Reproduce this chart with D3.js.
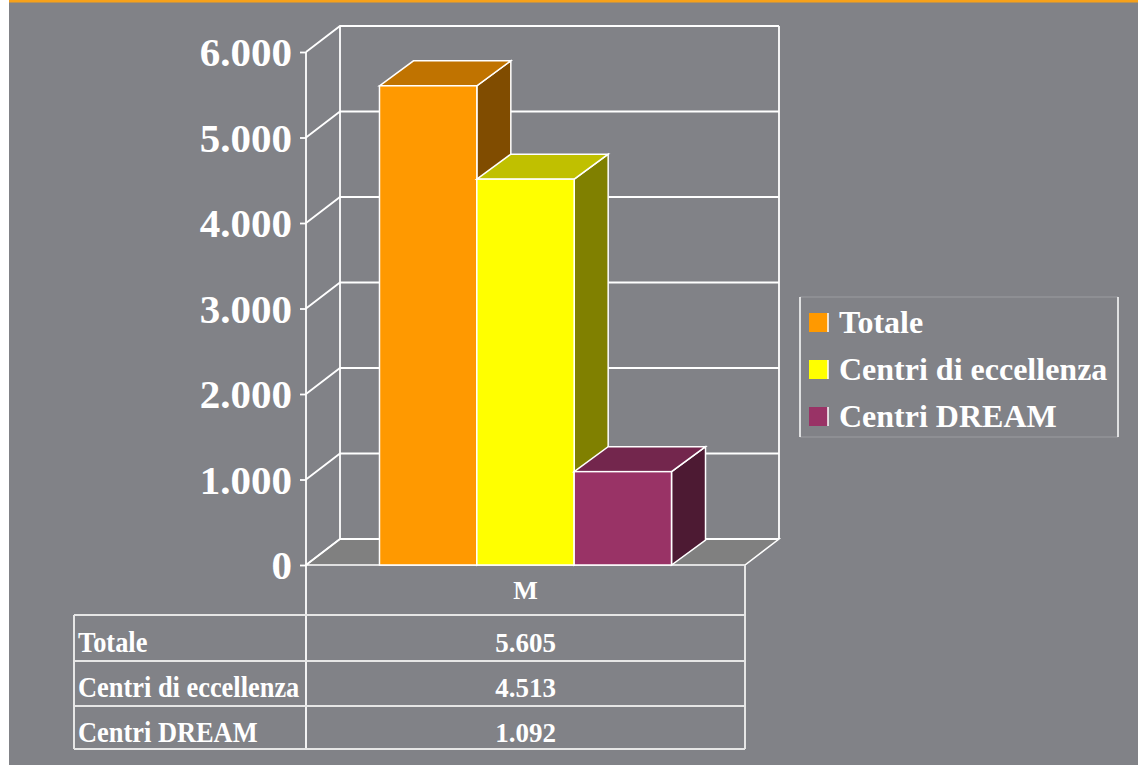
<!DOCTYPE html>
<html>
<head>
<meta charset="utf-8">
<script src="https://cdn.jsdelivr.net/npm/d3@7"></script>
<style>
  html, body { margin: 0; padding: 0; background: #ffffff; }
  svg { display: block; }
  text { font-family: "Liberation Serif", "Times New Roman", serif; font-weight: bold; fill: #ffffff; }
</style>
</head>
<body>
<svg id="chart"></svg>
<script>
// data
const categories = ["M"];
const seriesNames = ["Totale", "Centri di eccellenza", "Centri DREAM"];
const seriesValues = [5605, 4513, 1092];
const yTicks = [0, 1000, 2000, 3000, 4000, 5000, 6000];
const frontColors = ["#ff9900", "#ffff00", "#993366"];
const topColors = ["#c07300", "#c0c000", "#73264d"];
const sideColors = ["#804c00", "#808000", "#4d1a33"];

const W = 1138, H = 765;
const bg = "#818287";
const lineCol = "#ffffff";

const it = d3.formatLocale({ decimal: ",", thousands: ".", grouping: [3], currency: ["€", ""] });
const fmt = it.format(",d");

const svg = d3.select("#chart").attr("width", W).attr("height", H);

// page frame
svg.append("rect").attr("x", 0).attr("y", 0).attr("width", W).attr("height", H).attr("fill", "#ffffff");
svg.append("rect").attr("x", 9).attr("y", 0).attr("width", W - 9).attr("height", H).attr("fill", bg);
svg.append("rect").attr("x", 9).attr("y", 0).attr("width", W - 9).attr("height", 2.5).attr("fill", "#f7a11a");

// 3d layout
const plot = { left: 306, right: 745, top: 52, bottom: 565 };
const wallDepth = { dx: 34, dy: -26 };
const barDepth = { dx: 34, dy: -25 };

const yScale = d3.scaleLinear().domain([0, 6000]).range([plot.bottom, plot.top]);
const xCat = d3.scaleBand().domain(categories).range([plot.left, plot.right]).padding(0);
const xSer = d3.scaleBand().domain(seriesNames).range([0, xCat.bandwidth()])
  .paddingInner(0).paddingOuter(0.755);

const line = d3.line();

// floor
const floorPts = [
  [plot.left, plot.bottom], [plot.right, plot.bottom],
  [plot.right + wallDepth.dx, plot.bottom + wallDepth.dy],
  [plot.left + wallDepth.dx, plot.bottom + wallDepth.dy]
];
svg.append("path").attr("d", line(floorPts) + "Z")
  .attr("fill", "#808080").attr("stroke", lineCol).attr("stroke-width", 1.5);

// walls + gridlines
const grid = svg.append("g").attr("class", "grid")
  .attr("stroke", lineCol).attr("stroke-width", 1.8).attr("fill", "none");
const bx = plot.left + wallDepth.dx, bxr = plot.right + wallDepth.dx;
yTicks.forEach(t => {
  const y = yScale(t);
  grid.append("path").attr("d", line([[plot.left, y], [bx, y + wallDepth.dy], [bxr, y + wallDepth.dy]]));
});
grid.append("path").attr("d", line([[bx, yScale(6000) + wallDepth.dy], [bx, yScale(0) + wallDepth.dy]]));
grid.append("path").attr("d", line([[bxr, yScale(6000) + wallDepth.dy], [bxr, yScale(0) + wallDepth.dy]]));

// front y axis
svg.append("g")
  .attr("transform", "translate(" + plot.left + ",0)")
  .call(d3.axisLeft(yScale).tickValues(yTicks).tickSize(6).tickPadding(8).tickFormat(fmt))
  .call(g => g.select(".domain").remove())
  .call(g => g.selectAll(".tick line").attr("stroke", lineCol).attr("stroke-width", 1.8))
  .call(g => g.selectAll(".tick text")
    .attr("fill", "#ffffff").attr("font-family", "Liberation Serif, Times New Roman, serif")
    .attr("font-weight", "bold").attr("font-size", 41).attr("dy", "0.33em"));
svg.append("line").attr("x1", plot.left).attr("x2", plot.left)
  .attr("y1", plot.top).attr("y2", 749)
  .attr("stroke", lineCol).attr("stroke-width", 1.8);

// 3d bars
const bars = svg.selectAll(".bar3d")
  .data(seriesValues.map((v, i) => ({ name: seriesNames[i], value: v, i })))
  .enter().append("g").attr("class", "bar3d");

bars.each(function(d) {
  const g = d3.select(this);
  const x0 = xCat(categories[0]) + xSer(d.name);
  const x1 = x0 + xSer.bandwidth();
  const y0 = yScale(0), y1 = yScale(d.value);
  const dx = barDepth.dx, dy = barDepth.dy;
  // side
  g.append("path").attr("d", line([[x1, y1], [x1 + dx, y1 + dy], [x1 + dx, y0 + dy], [x1, y0]]) + "Z")
    .attr("fill", sideColors[d.i]).attr("stroke", lineCol).attr("stroke-width", 1.5);
  // top
  g.append("path").attr("d", line([[x0, y1], [x0 + dx, y1 + dy], [x1 + dx, y1 + dy], [x1, y1]]) + "Z")
    .attr("fill", topColors[d.i]).attr("stroke", lineCol).attr("stroke-width", 1.5);
  // front
  g.append("rect").attr("x", x0).attr("y", y1).attr("width", x1 - x0).attr("height", y0 - y1)
    .attr("fill", frontColors[d.i]).attr("stroke", lineCol).attr("stroke-width", 1.5);
});

// data table
const rowY = [565, 615, 661, 706, 749];
const tableLeft = 74;
const tbl = svg.append("g").attr("stroke", "#e6e6e6").attr("stroke-width", 2).attr("fill", "none");
rowY.slice(1).forEach(y => {
  tbl.append("line").attr("x1", tableLeft).attr("x2", plot.right).attr("y1", y).attr("y2", y);
});
tbl.append("line").attr("x1", tableLeft).attr("x2", tableLeft).attr("y1", rowY[1]).attr("y2", rowY[4]);
tbl.append("line").attr("x1", plot.right).attr("x2", plot.right).attr("y1", rowY[0]).attr("y2", rowY[4]);

const cx = xCat(categories[0]) + xCat.bandwidth() / 2;
svg.append("text").attr("x", cx).attr("y", 599).attr("text-anchor", "middle")
  .attr("font-size", 26).text(categories[0]);

const rowBase = [652, 697, 742];
seriesNames.forEach((s, i) => {
  // row labels are narrow in the original, squeeze them a bit
  const t = svg.append("text").attr("x", 78).attr("y", rowBase[i]).attr("font-size", 29).text(s);
  const w = t.node().getComputedTextLength();
  t.attr("textLength", w * 0.91).attr("lengthAdjust", "spacingAndGlyphs");
  svg.append("text").attr("x", cx).attr("y", rowBase[i]).attr("text-anchor", "middle")
    .attr("font-size", 27).text(fmt(seriesValues[i]));
});

// legend
const legend = svg.append("g").attr("transform", "translate(800,297)");
legend.append("line").attr("x1", 0).attr("x2", 318).attr("y1", 0).attr("y2", 0).attr("stroke", "#9b9ca0").attr("stroke-width", 1);
legend.append("line").attr("x1", 0).attr("x2", 318).attr("y1", 140).attr("y2", 140).attr("stroke", "#9b9ca0").attr("stroke-width", 1);
legend.append("line").attr("x1", 0).attr("x2", 0).attr("y1", 0).attr("y2", 140).attr("stroke", lineCol).attr("stroke-width", 1.5);
legend.append("line").attr("x1", 318).attr("x2", 318).attr("y1", 0).attr("y2", 140).attr("stroke", lineCol).attr("stroke-width", 1.5);

const legItems = legend.selectAll(".leg").data(seriesNames).enter().append("g")
  .attr("class", "leg")
  .attr("transform", (d, i) => "translate(9," + (16 + i * 47) + ")");
legItems.append("rect").attr("width", 19).attr("height", 19)
  .attr("fill", (d, i) => frontColors[i]);
legItems.append("line").attr("x1", 19).attr("x2", 19).attr("y1", 0).attr("y2", 19)
  .attr("stroke", lineCol).attr("stroke-width", 1.5);
legItems.append("text").attr("x", 30).attr("y", 20).attr("font-size", 32).text(d => d);
</script>
</body>
</html>
